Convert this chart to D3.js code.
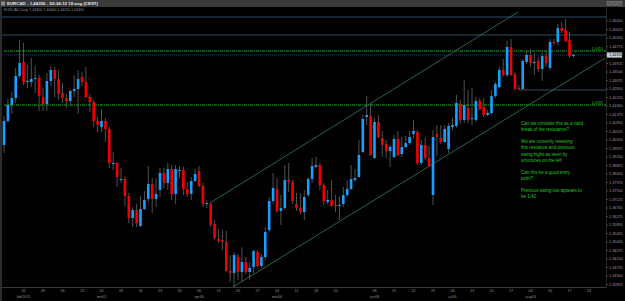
<!DOCTYPE html>
<html>
<head>
<meta charset="utf-8">
<script src="https://cdn.jsdelivr.net/npm/d3@7"></script>
<style>
  html, body { margin: 0; padding: 0; background: #000; }
  svg { display: block; }
  text { font-family: "Liberation Sans", Arial, sans-serif; }
</style>
</head>
<body>
<div id="chart"></div>
<script>
var svgWidth = 625;
var svgHeight = 301;
var plot = {left: 2, right: 606, top: 12, bottom: 287};

// EURCAD daily candles, 26 jan 2015 .. 18 aug 2015
var opens = [
  1.3985, 1.4105, 1.4185, 1.4220, 1.4330, 1.4400, 1.4300, 1.4300, 1.4315, 1.4320,
  1.4225, 1.4190, 1.4305, 1.4360, 1.4315, 1.4245, 1.4220, 1.4205, 1.4255, 1.4265,
  1.4325, 1.4300, 1.4225, 1.4200, 1.4105, 1.4075, 1.4105, 1.4065, 1.3890, 1.3895,
  1.3810, 1.3815, 1.3730, 1.3620, 1.3660, 1.3580, 1.3665, 1.3715, 1.3790, 1.3715,
  1.3760, 1.3845, 1.3795, 1.3865, 1.3740, 1.3855, 1.3860, 1.3765, 1.3740, 1.3805,
  1.3855, 1.3780, 1.3690, 1.3690, 1.3590, 1.3515, 1.3510, 1.3500, 1.3355, 1.3345,
  1.3425, 1.3350, 1.3400, 1.3350, 1.3375, 1.3450, 1.3380, 1.3425, 1.3560, 1.3705,
  1.3765, 1.3655, 1.3670, 1.3810, 1.3800, 1.3690, 1.3670, 1.3650, 1.3735, 1.3815,
  1.3875, 1.3885, 1.3785, 1.3700, 1.3710, 1.3685, 1.3680, 1.3690, 1.3735, 1.3765,
  1.3810, 1.3825, 1.3950, 1.4125, 1.4130, 1.3920, 1.4100, 1.4020, 1.3990, 1.3955,
  1.3925, 1.4015, 1.3940, 1.3975, 1.3995, 1.4040, 1.4050, 1.3895, 1.3985, 1.3920,
  1.3735, 1.4040, 1.4020, 1.4000, 1.3965, 1.4075, 1.4080, 1.4190, 1.4110, 1.4170,
  1.4115, 1.4110, 1.4205, 1.4175, 1.4135, 1.4145, 1.4230, 1.4275, 1.4360, 1.4335,
  1.4475, 1.4340, 1.4270, 1.4265, 1.4400, 1.4435, 1.4395, 1.4405, 1.4365, 1.4430,
  1.4370, 1.4500, 1.4500, 1.4570, 1.4560, 1.4510, 1.4430
];
var highs = [
  1.4130, 1.4215, 1.4250, 1.4370, 1.4510, 1.4495, 1.4385, 1.4420, 1.4380, 1.4335,
  1.4270, 1.4345, 1.4380, 1.4375, 1.4360, 1.4295, 1.4240, 1.4260, 1.4335, 1.4360,
  1.4350, 1.4375, 1.4240, 1.4210, 1.4125, 1.4165, 1.4120, 1.4075, 1.3950, 1.3900,
  1.3870, 1.3830, 1.3745, 1.3675, 1.3690, 1.3730, 1.3755, 1.3880, 1.3820, 1.3820,
  1.3870, 1.3870, 1.3895, 1.3885, 1.3885, 1.3880, 1.3875, 1.3800, 1.3825, 1.3865,
  1.3880, 1.3795, 1.3710, 1.3700, 1.3610, 1.3565, 1.3560, 1.3555, 1.3435, 1.3450,
  1.3440, 1.3475, 1.3425, 1.3400, 1.3460, 1.3460, 1.3440, 1.3575, 1.3725, 1.3845,
  1.3820, 1.3735, 1.3885, 1.3895, 1.3810, 1.3745, 1.3745, 1.3760, 1.3825, 1.3920,
  1.3925, 1.3895, 1.3795, 1.3760, 1.3810, 1.3735, 1.3730, 1.3775, 1.3810, 1.3885,
  1.3865, 1.4010, 1.4135, 1.4230, 1.4195, 1.4120, 1.4135, 1.4055, 1.4010, 1.3985,
  1.4035, 1.4055, 1.4025, 1.4030, 1.4055, 1.4110, 1.4060, 1.4010, 1.4020, 1.3980,
  1.4060, 1.4085, 1.4085, 1.4085, 1.4095, 1.4120, 1.4235, 1.4210, 1.4310, 1.4260,
  1.4270, 1.4225, 1.4220, 1.4220, 1.4160, 1.4260, 1.4300, 1.4375, 1.4415, 1.4505,
  1.4515, 1.4350, 1.4285, 1.4415, 1.4450, 1.4465, 1.4445, 1.4425, 1.4460, 1.4460,
  1.4515, 1.4515, 1.4590, 1.4600, 1.4615, 1.4550, 1.4440
];
var lows = [
  1.3945, 1.4095, 1.4140, 1.4195, 1.4320, 1.4285, 1.4270, 1.4275, 1.4245, 1.4155,
  1.4155, 1.4155, 1.4280, 1.4225, 1.4210, 1.4195, 1.4170, 1.4185, 1.4225, 1.4140,
  1.4280, 1.4220, 1.4150, 1.4075, 1.4050, 1.4050, 1.4000, 1.3870, 1.3860, 1.3775,
  1.3795, 1.3680, 1.3595, 1.3575, 1.3575, 1.3575, 1.3660, 1.3700, 1.3645, 1.3675,
  1.3725, 1.3770, 1.3760, 1.3710, 1.3690, 1.3820, 1.3735, 1.3725, 1.3710, 1.3800,
  1.3775, 1.3675, 1.3670, 1.3575, 1.3510, 1.3495, 1.3460, 1.3350, 1.3300, 1.3275,
  1.3310, 1.3300, 1.3340, 1.3310, 1.3345, 1.3375, 1.3370, 1.3410, 1.3550, 1.3690,
  1.3645, 1.3585, 1.3660, 1.3750, 1.3690, 1.3655, 1.3640, 1.3610, 1.3725, 1.3795,
  1.3870, 1.3760, 1.3685, 1.3690, 1.3675, 1.3650, 1.3610, 1.3675, 1.3725, 1.3760,
  1.3800, 1.3820, 1.3945, 1.4085, 1.3930, 1.3915, 1.4020, 1.3925, 1.3920, 1.3875,
  1.3920, 1.3930, 1.3925, 1.3970, 1.3985, 1.4020, 1.3885, 1.3885, 1.3910, 1.3875,
  1.3685, 1.3930, 1.3990, 1.3995, 1.3945, 1.4060, 1.4070, 1.4090, 1.4095, 1.4095,
  1.4085, 1.4100, 1.4160, 1.4125, 1.4130, 1.4135, 1.4220, 1.4270, 1.4325, 1.4325,
  1.4330, 1.4260, 1.4260, 1.4260, 1.4390, 1.4375, 1.4335, 1.4350, 1.4305, 1.4375,
  1.4360, 1.4485, 1.4485, 1.4545, 1.4500, 1.4420, 1.4425
];
var closes = [
  1.4105, 1.4185, 1.4220, 1.4330, 1.4395, 1.4300, 1.4305, 1.4315, 1.4320, 1.4230,
  1.4190, 1.4305, 1.4360, 1.4315, 1.4240, 1.4220, 1.4205, 1.4255, 1.4265, 1.4315,
  1.4300, 1.4225, 1.4200, 1.4105, 1.4085, 1.4105, 1.4065, 1.3895, 1.3895, 1.3825,
  1.3815, 1.3730, 1.3620, 1.3660, 1.3595, 1.3665, 1.3710, 1.3790, 1.3715, 1.3740,
  1.3845, 1.3795, 1.3865, 1.3740, 1.3865, 1.3860, 1.3765, 1.3740, 1.3805, 1.3840,
  1.3780, 1.3690, 1.3695, 1.3585, 1.3520, 1.3505, 1.3500, 1.3355, 1.3345, 1.3435,
  1.3350, 1.3400, 1.3350, 1.3370, 1.3455, 1.3380, 1.3425, 1.3550, 1.3705, 1.3770,
  1.3655, 1.3670, 1.3810, 1.3800, 1.3705, 1.3670, 1.3650, 1.3725, 1.3815, 1.3880,
  1.3885, 1.3785, 1.3705, 1.3710, 1.3680, 1.3680, 1.3685, 1.3735, 1.3765, 1.3815,
  1.3820, 1.3935, 1.4115, 1.4135, 1.3935, 1.4100, 1.4025, 1.3985, 1.3955, 1.3975,
  1.4015, 1.3935, 1.3975, 1.3995, 1.4025, 1.4055, 1.3895, 1.3985, 1.3920, 1.3880,
  1.4025, 1.4025, 1.4000, 1.4065, 1.4080, 1.4085, 1.4195, 1.4110, 1.4185, 1.4110,
  1.4120, 1.4205, 1.4165, 1.4135, 1.4145, 1.4230, 1.4290, 1.4360, 1.4335, 1.4475,
  1.4335, 1.4265, 1.4265, 1.4405, 1.4435, 1.4395, 1.4400, 1.4365, 1.4430, 1.4395,
  1.4500, 1.4495, 1.4570, 1.4555, 1.4505, 1.4430, 1.4435
];

// time axis labels (bar index -> text)
var dayTickIdx = [5, 10, 15, 20, 25, 30, 35, 40, 45, 50, 55, 60, 65, 70, 75, 80, 85,
  95, 100, 105, 110, 115, 120, 125, 130, 135, 140, 145, 150];
var dayTickText = ["02", "09", "16", "23", "02", "09", "16", "23", "30", "06", "13", "20", "27",
  "04", "11", "18", "25", "08", "15", "22", "29", "06", "13", "20", "27", "03", "10", "17", "24"];
var monthTickIdx = [5, 25, 50, 70, 95, 115, 135];
var monthTickText = ["feb2015", "mrt02", "apr06", "mei04", "jun08", "jul06", "aug03"];

// price axis labels
var priceTicks = [1.46050, 1.45625, 1.45200, 1.44775, 1.44350, 1.43925, 1.43500, 1.43075,
  1.42650, 1.42225, 1.41800, 1.41375, 1.40950, 1.40525, 1.40100, 1.39675, 1.39250, 1.38825,
  1.38400, 1.37975, 1.37550, 1.37125, 1.36700, 1.36275, 1.35850, 1.35425, 1.35000, 1.34575,
  1.34150, 1.33725, 1.33300, 1.32875];

// drawn objects
var slateLevels = [1.4625, 1.4535];
var greenLevels = [1.4455, 1.4185];
var greenLabels = ["1,4455", "1,4185"];
var swingLowIdx = 132;
var swingLowPrice = 1.4260;
var upperChannel = [[52.8, 1.3695], [131.8, 1.4650]];
var lowerChannel = [[58.7, 1.3275], [154.1, 1.4420]];

var notes = [
  "Can we consider this as a valid",
  "break of the resistance?",
  "",
  "We are currently retesting",
  "this restiance and previous",
  "swing highs as seen by",
  "structures on the left",
  "",
  "Can this be a good entry",
  "point?",
  "",
  "Previous swing low appears to",
  "be 1.42"
];

var candles = opens.map(function(o, i) {
  return {i: i, open: o, high: highs[i], low: lows[i], close: closes[i]};
});
var lastPrice = closes[closes.length - 1];

var svg = d3.select("#chart")
  .append("svg")
  .attr("width", svgWidth)
  .attr("height", svgHeight)
  .style("background", "#000");

var xScale = d3.scaleLinear().domain([0, 150]).range([4, 589]);
var yScale = d3.scaleLinear().domain([1.3275, 1.4650]).range([plot.bottom, plot.top]);

function fmt(p) {
  return p.toFixed(5).replace(".", ",");
}

// window title bar
svg.append("rect").attr("x", 0).attr("y", 0).attr("width", svgWidth).attr("height", 7)
  .attr("fill", "#3a3a3a");
svg.append("rect").attr("x", 1).attr("y", 1.5).attr("width", 4).attr("height", 4)
  .attr("fill", "#8a8a8a");
svg.append("text").attr("x", 7).attr("y", 5.3)
  .attr("font-size", "4.4px").attr("font-weight", "bold").attr("fill", "#e8e8e8")
  .text("EURCAD - " + fmt(lastPrice) + " - 02:34:12 18 aug (CEST)");
[0, 1, 2].forEach(function(k) {
  svg.append("rect").attr("x", 607 + k * 5.3).attr("y", 1.3).attr("width", 4.3).attr("height", 4.2)
    .attr("fill", "#5a5a5a").attr("stroke", "#8a8a8a").attr("stroke-width", 0.4);
});
svg.append("text").attr("x", 4).attr("y", 10.8)
  .attr("font-size", "3.6px").attr("fill", "#8f8f8f")
  .text("EURCAD,Daily  1,44300 1,44400 1,44250 1,44350");

// frame
svg.append("line").attr("x1", 1).attr("x2", 1).attr("y1", 7).attr("y2", svgHeight)
  .attr("stroke", "#4a4a4a").attr("stroke-width", 1.2);
svg.append("line").attr("x1", plot.left).attr("x2", plot.right).attr("y1", plot.bottom + 0.5).attr("y2", plot.bottom + 0.5)
  .attr("stroke", "#3a3a3a");
svg.append("line").attr("x1", plot.right + 0.5).attr("x2", plot.right + 0.5).attr("y1", 7).attr("y2", plot.bottom + 1)
  .attr("stroke", "#262626");

// horizontal levels
svg.selectAll(".slate").data(slateLevels).enter().append("line")
  .attr("x1", plot.left).attr("x2", plot.right)
  .attr("y1", d => yScale(d)).attr("y2", d => yScale(d))
  .attr("stroke", "#2f4d60").attr("stroke-width", 1);

svg.append("line")
  .attr("x1", xScale(swingLowIdx)).attr("x2", plot.right)
  .attr("y1", yScale(swingLowPrice)).attr("y2", yScale(swingLowPrice))
  .attr("stroke", "#2f4d60").attr("stroke-width", 1);

// current price line
svg.append("line")
  .attr("x1", plot.left).attr("x2", plot.right)
  .attr("y1", yScale(lastPrice)).attr("y2", yScale(lastPrice))
  .attr("stroke", "#27355a").attr("stroke-width", 1).attr("stroke-dasharray", "1,1");

svg.selectAll(".green").data(greenLevels).enter().append("line")
  .attr("x1", plot.left + 2).attr("x2", plot.right)
  .attr("y1", d => yScale(d)).attr("y2", d => yScale(d))
  .attr("stroke", "#1fc21f").attr("stroke-width", 0.9).attr("stroke-dasharray", "3,1,1,1");

svg.selectAll(".greenlab").data(greenLevels).enter().append("text")
  .attr("x", 603).attr("y", d => yScale(d) - 1.2)
  .attr("text-anchor", "end").attr("font-size", "3.8px").attr("fill", "#1fc21f")
  .text((d, i) => greenLabels[i]);

// channel lines
var chLine = d3.line().x(d => xScale(d[0])).y(d => yScale(d[1]));
[upperChannel, lowerChannel].forEach(function(ch) {
  svg.append("path").attr("d", chLine(ch))
    .attr("fill", "none").attr("stroke", "#2c6a6a").attr("stroke-width", 0.9);
});

// candles
var candleGroup = svg.append("g");
candleGroup.selectAll("line").data(candles).enter().append("line")
  .attr("x1", d => xScale(d.i)).attr("x2", d => xScale(d.i))
  .attr("y1", d => yScale(d.high)).attr("y2", d => yScale(d.low))
  .attr("stroke", "#5a5a5a").attr("stroke-width", 0.9);

candleGroup.selectAll("rect").data(candles).enter().append("rect")
  .attr("x", d => xScale(d.i) - 1.3)
  .attr("width", 2.6)
  .attr("y", d => yScale(Math.max(d.open, d.close)))
  .attr("height", d => Math.max(0.9, Math.abs(yScale(d.open) - yScale(d.close))))
  .attr("fill", d => d.close >= d.open ? "#17a0ff" : "#f20000");

// price axis
var priceAxis = svg.append("g");
priceAxis.selectAll("line").data(priceTicks).enter().append("line")
  .attr("x1", plot.right).attr("x2", plot.right + 2)
  .attr("y1", d => yScale(d)).attr("y2", d => yScale(d))
  .attr("stroke", "#777").attr("stroke-width", 0.5);
priceAxis.selectAll("text").data(priceTicks).enter().append("text")
  .attr("x", 609).attr("y", d => yScale(d)).attr("dy", "0.35em")
  .attr("font-size", "3.8px").attr("fill", "#9c9c9c")
  .text(d => fmt(d));

// current price label
svg.append("rect").attr("x", 607).attr("y", yScale(lastPrice) - 2.6)
  .attr("width", 15).attr("height", 5.2).attr("fill", "#c9ced6");
svg.append("text").attr("x", 609).attr("y", yScale(lastPrice)).attr("dy", "0.35em")
  .attr("font-size", "3.8px").attr("fill", "#101010")
  .text(fmt(lastPrice));

// time axis
svg.selectAll(".day").data(dayTickIdx).enter().append("text")
  .attr("x", d => xScale(d)).attr("y", 292)
  .attr("text-anchor", "middle").attr("font-size", "3.8px").attr("fill", "#8e8e8e")
  .text((d, i) => dayTickText[i]);
svg.selectAll(".month").data(monthTickIdx).enter().append("text")
  .attr("x", d => xScale(d)).attr("y", 298)
  .attr("text-anchor", "middle").attr("font-size", "3.8px").attr("fill", "#8e8e8e")
  .text((d, i) => monthTickText[i]);

// annotation
svg.append("g").selectAll("text").data(notes).enter().append("text")
  .attr("x", 521)
  .attr("y", (d, i) => 125 + i * 6.1)
  .attr("font-size", "4.5px").attr("fill", "#22c722")
  .text(d => d);
</script>
</body>
</html>
